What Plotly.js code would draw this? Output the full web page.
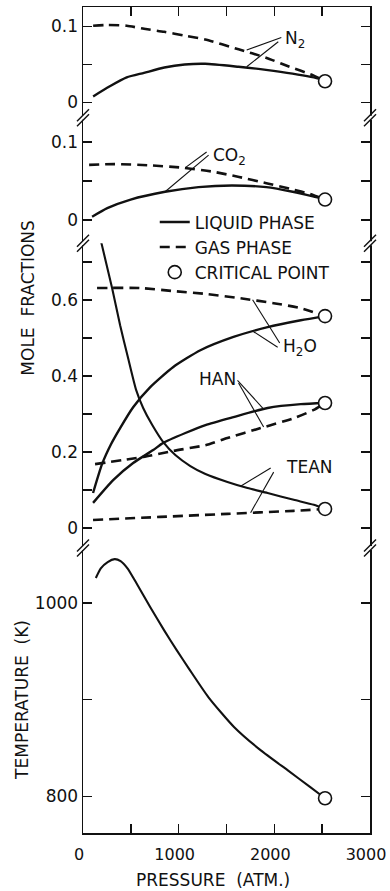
<!DOCTYPE html>
<html><head><meta charset="utf-8">
<script src="https://cdn.plot.ly/plotly-3.0.1.min.js"></script>
<style>html,body{margin:0;padding:0;background:#fff}#chart{width:390px;height:891px}</style>
</head><body><div id="chart"></div><script>
// ---- data (pressure in atm) ----
const pN2Gas  = [106, 245, 457, 638, 850, 1063, 1276, 1626, 1913, 2158, 2402, 2530];
const n2Gas   = [0.101, 0.102, 0.101, 0.097, 0.093, 0.088, 0.083, 0.070, 0.059, 0.047, 0.036, 0.028];
const pN2Liq  = [106, 276, 457, 638, 850, 1063, 1276, 1626, 1913, 2190, 2477, 2530];
const n2Liq   = [0.008, 0.021, 0.033, 0.039, 0.046, 0.050, 0.051, 0.047, 0.043, 0.038, 0.031, 0.028];

const pCO2Gas = [64, 328, 678, 1027, 1345, 1631, 1917, 2160, 2404, 2530];
const co2Gas  = [0.0705, 0.0715, 0.070, 0.067, 0.062, 0.055, 0.047, 0.040, 0.032, 0.026];
const pCO2Liq = [95, 254, 498, 858, 1207, 1557, 1917, 2192, 2404, 2530];
const co2Liq  = [0.004, 0.015, 0.026, 0.036, 0.042, 0.044, 0.042, 0.036, 0.030, 0.026];

const pH2OGas = [147, 598, 944, 1301, 1647, 1993, 2276, 2530];
const h2oGas  = [0.632, 0.632, 0.624, 0.616, 0.605, 0.592, 0.579, 0.558];
const pH2OLiq = [105, 199, 294, 388, 524, 703, 944, 1227, 1573, 1930, 2276, 2530];
const h2oLiq  = [0.092, 0.168, 0.221, 0.263, 0.318, 0.371, 0.424, 0.468, 0.503, 0.529, 0.547, 0.558];

const pHANGas = [126, 629, 944, 1280, 1510, 1857, 2203, 2413, 2530];
const hanGas  = [0.168, 0.187, 0.203, 0.218, 0.237, 0.263, 0.289, 0.311, 0.329];
const pHANLiq = [105, 315, 524, 734, 839, 1070, 1280, 1573, 1930, 2276, 2530];
const hanLiq  = [0.066, 0.126, 0.171, 0.205, 0.224, 0.25, 0.271, 0.292, 0.316, 0.326, 0.329];

const pTEANGas = [105, 808, 1510, 2203, 2530];
const teanGas  = [0.021, 0.029, 0.037, 0.045, 0.05];
const pTEANLiq = [126, 178, 304, 388, 472, 556, 629, 724, 839, 965, 1122, 1280, 1510, 1720, 1930, 2203, 2413, 2530];
const teanLiq  = [0.824, 0.766, 0.632, 0.534, 0.447, 0.363, 0.316, 0.271, 0.226, 0.192, 0.163, 0.142, 0.121, 0.105, 0.092, 0.074, 0.061, 0.05];

const pTemp = [134, 186, 258, 331, 393, 465, 568, 702, 847, 981, 1105, 1312, 1581, 1859, 2138, 2376, 2530];
const temp  = [1026, 1036, 1042.5, 1045.5, 1043.5, 1036, 1019, 996, 972, 951, 932.5, 902.5, 871.5, 847.5, 827, 809.5, 798];

const pCrit = 2530;
const critN2 = 0.028, critCO2 = 0.026, critH2O = 0.558, critHAN = 0.329, critTEAN = 0.05, critT = 798;

const xTicks = [0, 500, 1000, 1500, 2000, 2500, 3000];
const xTickText = ['0', '', '1000', '', '2000', '', '3000'];

// ---- styling ----
const FONT = 'DejaVu Sans, sans-serif';
const INK = '#111';
const SOLID_W = 2.4, DASH_W = 2.6, DASH = '10px,6px';

function curve(x, y, xa, ya, dashed, w) {
  return {x: x, y: y, xaxis: xa, yaxis: ya, type: 'scatter', mode: 'lines', showlegend: false,
    hoverinfo: 'skip',
    line: {color: INK, width: w || (dashed ? DASH_W : SOLID_W), dash: dashed ? DASH : 'solid', shape: 'spline', smoothing: 0.6}};
}
function crit(y, xa, ya) {
  return {x: [pCrit], y: [y], xaxis: xa, yaxis: ya, type: 'scatter', mode: 'markers', showlegend: false,
    hoverinfo: 'skip', cliponaxis: false,
    marker: {symbol: 'circle', size: 13, color: '#fff', line: {color: INK, width: 1.6}}};
}

const data = [
  // legend entries
  {x: [null], y: [null], xaxis: 'x', yaxis: 'y2', type: 'scatter', mode: 'lines', name: 'LIQUID PHASE',
   line: {color: INK, width: SOLID_W}},
  {x: [null], y: [null], xaxis: 'x', yaxis: 'y2', type: 'scatter', mode: 'lines', name: 'GAS PHASE',
   line: {color: INK, width: DASH_W, dash: DASH}},
  {x: [null], y: [null], xaxis: 'x', yaxis: 'y2', type: 'scatter', mode: 'markers', name: 'CRITICAL POINT',
   marker: {symbol: 'circle', size: 13, color: '#fff', line: {color: INK, width: 1.6}}},
  // N2 panel
  curve(pN2Gas, n2Gas, 'x2', 'y4', true),
  curve(pN2Liq, n2Liq, 'x2', 'y4', false),
  crit(critN2, 'x2', 'y4'),
  // CO2 panel
  curve(pCO2Gas, co2Gas, 'x', 'y3', true),
  curve(pCO2Liq, co2Liq, 'x', 'y3', false),
  crit(critCO2, 'x', 'y3'),
  // main panel
  curve(pH2OGas, h2oGas, 'x', 'y2', true),
  curve(pH2OLiq, h2oLiq, 'x', 'y2', false),
  curve(pHANGas, hanGas, 'x', 'y2', true),
  curve(pHANLiq, hanLiq, 'x', 'y2', false),
  curve(pTEANGas, teanGas, 'x', 'y2', true),
  curve(pTEANLiq, teanLiq, 'x', 'y2', false, 2.1),
  crit(critH2O, 'x', 'y2'),
  crit(critHAN, 'x', 'y2'),
  crit(critTEAN, 'x', 'y2'),
  // temperature panel
  curve(pTemp, temp, 'x', 'y', false, 2.1),
  crit(critT, 'x', 'y')
];

const tickFont = {family: FONT, size: 17, color: INK};
function yAx(domain, range, vals, text, anchor) {
  return {domain: domain, range: range, anchor: anchor || 'x', showline: true, linewidth: 1.5, linecolor: INK,
    mirror: 'ticks', ticks: 'inside', ticklen: 9, tickwidth: 1.5, tickcolor: INK,
    tickvals: vals, ticktext: text, tickfont: tickFont, showgrid: false, zeroline: false, fixedrange: true};
}

// break marks on both side axes
const breaksY = [0.345, 0.714, 0.866];
const shapes = [];
breaksY.forEach(function (yb) {
  [0, 1].forEach(function (xb) {
    shapes.push({type: 'rect', xref: 'paper', yref: 'paper', xsizemode: 'pixel', ysizemode: 'pixel',
      xanchor: xb, yanchor: yb, x0: -3, x1: 3, y0: -2, y1: 2, fillcolor: '#fff', line: {width: 0}});
    [-2.5, 2.5].forEach(function (off) {
      shapes.push({type: 'line', xref: 'paper', yref: 'paper', xsizemode: 'pixel', ysizemode: 'pixel',
        xanchor: xb, yanchor: yb, x0: -6, x1: 6, y0: off - 6, y1: off + 6, line: {color: INK, width: 1.4}});
    });
  });
});
// leader lines for curve labels
function leader(xr, yr, x0, y0, x1, y1) {
  shapes.push({type: 'line', xref: xr, yref: yr, x0: x0, y0: y0, x1: x1, y1: y1, line: {color: INK, width: 1.1}});
}
leader('x2', 'y4', 2073, 0.0855, 1711, 0.069);
leader('x2', 'y4', 2041, 0.080, 1711, 0.047);
leader('x', 'y3', 1292, 0.087, 1070, 0.067);
leader('x', 'y3', 1313, 0.083, 858, 0.036);
leader('x', 'y2', 2056, 0.487, 1773, 0.601);
leader('x', 'y2', 2035, 0.476, 1783, 0.517);
leader('x', 'y2', 1615, 0.389, 1888, 0.313);
leader('x', 'y2', 1626, 0.382, 1888, 0.266);
leader('x', 'y2', 1962, 0.158, 1647, 0.110);
leader('x', 'y2', 1993, 0.147, 1752, 0.040);

const labFont = {family: FONT, size: 17, color: INK};
const annotations = [
  {text: 'N<sub>2</sub>', xref: 'x2', yref: 'y4', x: 2095, y: 0.083, xanchor: 'left', yanchor: 'middle', showarrow: false, font: labFont},
  {text: 'CO<sub>2</sub>', xref: 'x', yref: 'y3', x: 1340, y: 0.081, xanchor: 'left', yanchor: 'middle', showarrow: false, font: labFont},
  {text: 'H<sub>2</sub>O', xref: 'x', yref: 'y2', x: 2066, y: 0.474, xanchor: 'left', yanchor: 'middle', showarrow: false, font: labFont},
  {text: 'HAN', xref: 'x', yref: 'y2', x: 1406, y: 0.392, xanchor: 'center', yanchor: 'middle', showarrow: false, font: labFont},
  {text: 'TEAN', xref: 'x', yref: 'y2', x: 2098, y: 0.161, xanchor: 'left', yanchor: 'middle', showarrow: false, font: labFont},
  {text: 'MOLE  FRACTIONS', xref: 'paper', yref: 'paper', x: -0.192, y: 0.648, xanchor: 'center', yanchor: 'middle',
   textangle: -90, showarrow: false, font: labFont},
  {text: 'TEMPERATURE  (K)', xref: 'paper', yref: 'paper', x: -0.213, y: 0.161, xanchor: 'center', yanchor: 'middle',
   textangle: -90, showarrow: false, font: labFont},
  {text: 'PRESSURE  (ATM.)', xref: 'paper', yref: 'paper', x: 0.453, y: -0.057, xanchor: 'center', yanchor: 'middle',
   showarrow: false, font: labFont}
];

const layout = {
  width: 390, height: 891,
  margin: {l: 83, r: 20, t: 7, b: 58},
  paper_bgcolor: '#fff', plot_bgcolor: '#fff',
  font: {family: FONT, color: INK},
  showlegend: true,
  legend: {x: 0.25, y: 0.761, xanchor: 'left', yanchor: 'top', bgcolor: 'rgba(0,0,0,0)',
    font: {family: FONT, size: 17, color: INK}, tracegroupgap: 0, itemwidth: 30},
  xaxis: {domain: [0, 1], range: [0, 3000], anchor: 'y', showline: true, linewidth: 1.5, linecolor: INK,
    ticks: 'inside', ticklen: 9, tickwidth: 1.5, tickcolor: INK, tickvals: xTicks, ticktext: xTickText,
    tickfont: {family: FONT, size: 16, color: INK}, ticklabelstandoff: 6, ticklabelshift: -4,
    ticklabeloverflow: 'allow', showgrid: false, zeroline: false, fixedrange: true},
  xaxis2: {domain: [0, 1], range: [0, 3000], matches: 'x', anchor: 'y4', side: 'top', showline: true, linewidth: 1.5,
    linecolor: INK, ticks: 'inside', ticklen: 9, tickwidth: 1.5, tickcolor: INK, tickvals: xTicks,
    showticklabels: false, showgrid: false, zeroline: false, fixedrange: true},
  yaxis: yAx([0, 0.345], [762, 1057], [800, 900, 1000], ['800', '', '1000']),
  yaxis2: yAx([0.345, 0.714], [-0.053, 0.75], [0, 0.1, 0.2, 0.3, 0.4, 0.5, 0.6, 0.7], ['0', '', '0.2', '', '0.4', '', '0.6', '']),
  yaxis3: yAx([0.714, 0.866], [-0.03, 0.131], [0, 0.05, 0.1], ['0', '', '0.1']),
  yaxis4: yAx([0.866, 1], [-0.02, 0.1257], [0, 0.05, 0.1], ['0', '', '0.1'], 'x2'),
  shapes: shapes,
  annotations: annotations
};

Plotly.newPlot('chart', data, layout, {staticPlot: true, displayModeBar: false});
</script></body></html>
